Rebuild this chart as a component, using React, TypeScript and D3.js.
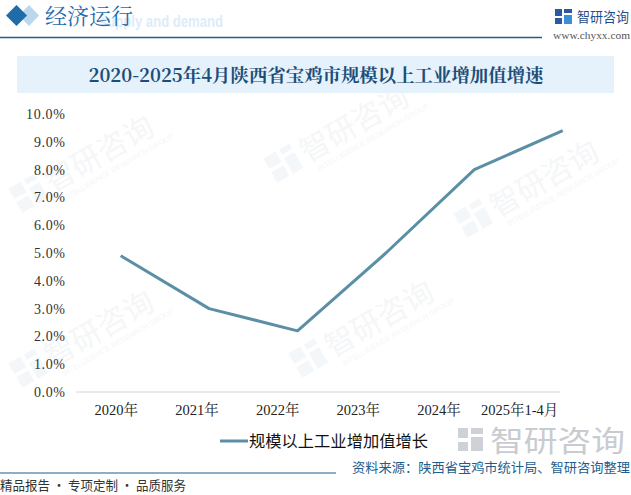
import React from "react";
import * as d3 from "d3";

const categories = ["2020年", "2021年", "2022年", "2023年", "2024年", "2025年1-4月"];
const growth = [4.9, 3.0, 2.2, 5.0, 8.0, 9.4];
const yTicks = [0, 1, 2, 3, 4, 5, 6, 7, 8, 9, 10];
const seriesName = "规模以上工业增加值增长";
const title = "2020-2025年4月陕西省宝鸡市规模以上工业增加值增速";
const source = "资料来源：陕西省宝鸡市统计局、智研咨询整理";
const slogan = "精品报告 · 专项定制 · 品质服务";

const W = 631;
const H = 495;

const watermarks = [
  [75, 180], [330, 150], [520, 205], [75, 355], [355, 345],
];

export default function App() {
  const y = d3.scaleLinear().domain([0, 10]).range([392, 114]);
  const xBand = d3.scaleBand<string>().domain(categories).range([76, 560]);
  const xPoint = d3.scalePoint<string>().domain(categories).range([120.7, 562.7]);
  const line = d3
    .line<number>()
    .x((_, i) => xPoint(categories[i]) as number)
    .y((d) => y(d));
  const fmt = d3.format(".1f");

  return (
    <svg
      width={W}
      height={H}
      style={{ position: "absolute", left: 0, top: 0, background: "#fff" }}
      fontFamily="'Liberation Serif', serif"
    >
      <rect x={0} y={0} width={W} height={H} fill="#fff" />
      {/* watermarks */}
      {watermarks.map(([wx, wy], i) => (
        <g key={i} transform={`translate(${wx},${wy}) rotate(-30)`} opacity={0.45}>
          <path d="M-62,-26 h14 v12 h-14 Z M-44,-26 h12 v6 h-12 Z M-44,-16 h12 v18 h-12 Z M-62,-10 h14 v12 h-14 Z" fill="#e8eef4" />
          <text x={-26} y={0} fontSize={30} fill="#e9edf1" fontFamily="'Noto Sans CJK SC'">
            智研咨询
          </text>
          <text x={-20} y={13} fontSize={7.5} fill="#e9edf1" fontFamily="'Liberation Sans'">
            INTELLIGENCE RESEARCH GROUP
          </text>
        </g>
      ))}

      {/* header */}
      <text x={100} y={27} fontSize={17} fontWeight="bold" fill="#deecf8" fontFamily="'Liberation Sans', sans-serif" textLength={123} lengthAdjust="spacingAndGlyphs">
        supply and demand
      </text>
      <path d="M29,5 L39,15.5 L29,26 L19,15.5 Z" fill="#b9d7ee" />
      <path d="M16.5,5 L27,15.5 L16.5,26 L6,15.5 Z" fill="#1f6cab" />
      <text x={45} y={23.5} fontSize={22} fill="#1f6cab" fontFamily="'Noto Serif CJK SC','Noto Sans CJK SC', serif">
        经济运行
      </text>
      <line x1={0} x2={542} y1={37.5} y2={37.5} stroke="#1d5e8e" strokeWidth={1.5} />
      {/* logo */}
      <g>
        <rect x={555} y={9} width={7} height={7} fill="#2a5aa0" />
        <rect x={564} y={9} width={8} height={4} fill="#2a5aa0" />
        <rect x={564} y={15} width={8} height={9} fill="#3a8fd6" />
        <rect x={555} y={18} width={7} height={6} fill="#2a5aa0" />
      </g>
      <text x={577} y={22} fontSize={13.5} fill="#1f4f8a" fontFamily="'Noto Sans CJK SC'" textLength={52} lengthAdjust="spacingAndGlyphs">
        智研咨询
      </text>
      <text x={553} y={39} fontSize={10.5} fill="#555" fontFamily="'Liberation Serif', serif" textLength={77} lengthAdjust="spacingAndGlyphs">
        www.chyxx.com
      </text>

      {/* title */}
      <rect x={17} y={56} width={597} height={37} fill="#e6f2fb" />
      <text
        x={316}
        y={82}
        textAnchor="middle"
        fontSize={18.5}
        fontWeight="bold"
        fill="#1d4e7a"
        fontFamily="'Noto Serif CJK SC','Liberation Serif', serif"
        textLength={455}
        lengthAdjust="spacingAndGlyphs"
      >
        {title}
      </text>

      {/* y axis labels */}
      {yTicks.map((t) => {
        const s = fmt(t) + "%";
        return (
          <text
            key={t}
            x={65}
            y={y(t) + 5}
            textAnchor="end"
            fontSize={14}
            fill="#333"
            textLength={s.length === 5 ? 39 : 31}
            lengthAdjust="spacing"
          >
            {s}
          </text>
        );
      })}
      {/* x axis */}
      <line x1={76} x2={560} y1={y(0)} y2={y(0)} stroke="#d4d4d4" strokeWidth={1} />
      {categories.map((c) => (
        <text
          key={c}
          x={(xBand(c) as number) + xBand.bandwidth() / 2}
          y={415}
          textAnchor="middle"
          fontSize={14.5}
          fill="#222"
          fontFamily="'Liberation Serif','Noto Serif CJK SC', serif"
        >
          {c}
        </text>
      ))}

      {/* series line */}
      <path d={line(growth) || ""} fill="none" stroke="#5a8fa6" strokeWidth={3} strokeLinejoin="round" />

      {/* legend */}
      <line x1={220} x2={248} y1={441} y2={441} stroke="#5a8fa6" strokeWidth={3} />
      <text x={249} y={447} fontSize={16} fill="#111" fontFamily="'Noto Sans CJK SC'" textLength={179} lengthAdjust="spacingAndGlyphs">
        {seriesName}
      </text>

      {/* bottom logo watermark */}
      <g opacity={0.9}>
        <rect x={458} y={428} width={10} height={10} fill="#c9cdd2" />
        <rect x={471} y={428} width={12} height={6} fill="#c9cdd2" />
        <rect x={471} y={437} width={12} height={14} fill="#c9cdd2" />
        <rect x={458} y={442} width={10} height={9} fill="#c9cdd2" />
        <text x={490} y={452} fontSize={29} fill="#c3c7cc" fontFamily="'Noto Sans CJK SC'" textLength={135} lengthAdjust="spacingAndGlyphs">
          智研咨询
        </text>
      </g>

      {/* footer */}
      <line x1={0} x2={336} y1={473} y2={473} stroke="#1d5e8e" strokeWidth={1.2} />
      <text x={352} y={472} fontSize={13} fill="#1d5e8e" fontFamily="'Noto Sans CJK SC'" textLength={278} lengthAdjust="spacingAndGlyphs">
        {source}
      </text>
      <text x={0} y={490} fontSize={13} fill="#333" fontFamily="'Noto Sans CJK SC'" textLength={186} lengthAdjust="spacingAndGlyphs">
        {slogan}
      </text>
    </svg>
  );
}
